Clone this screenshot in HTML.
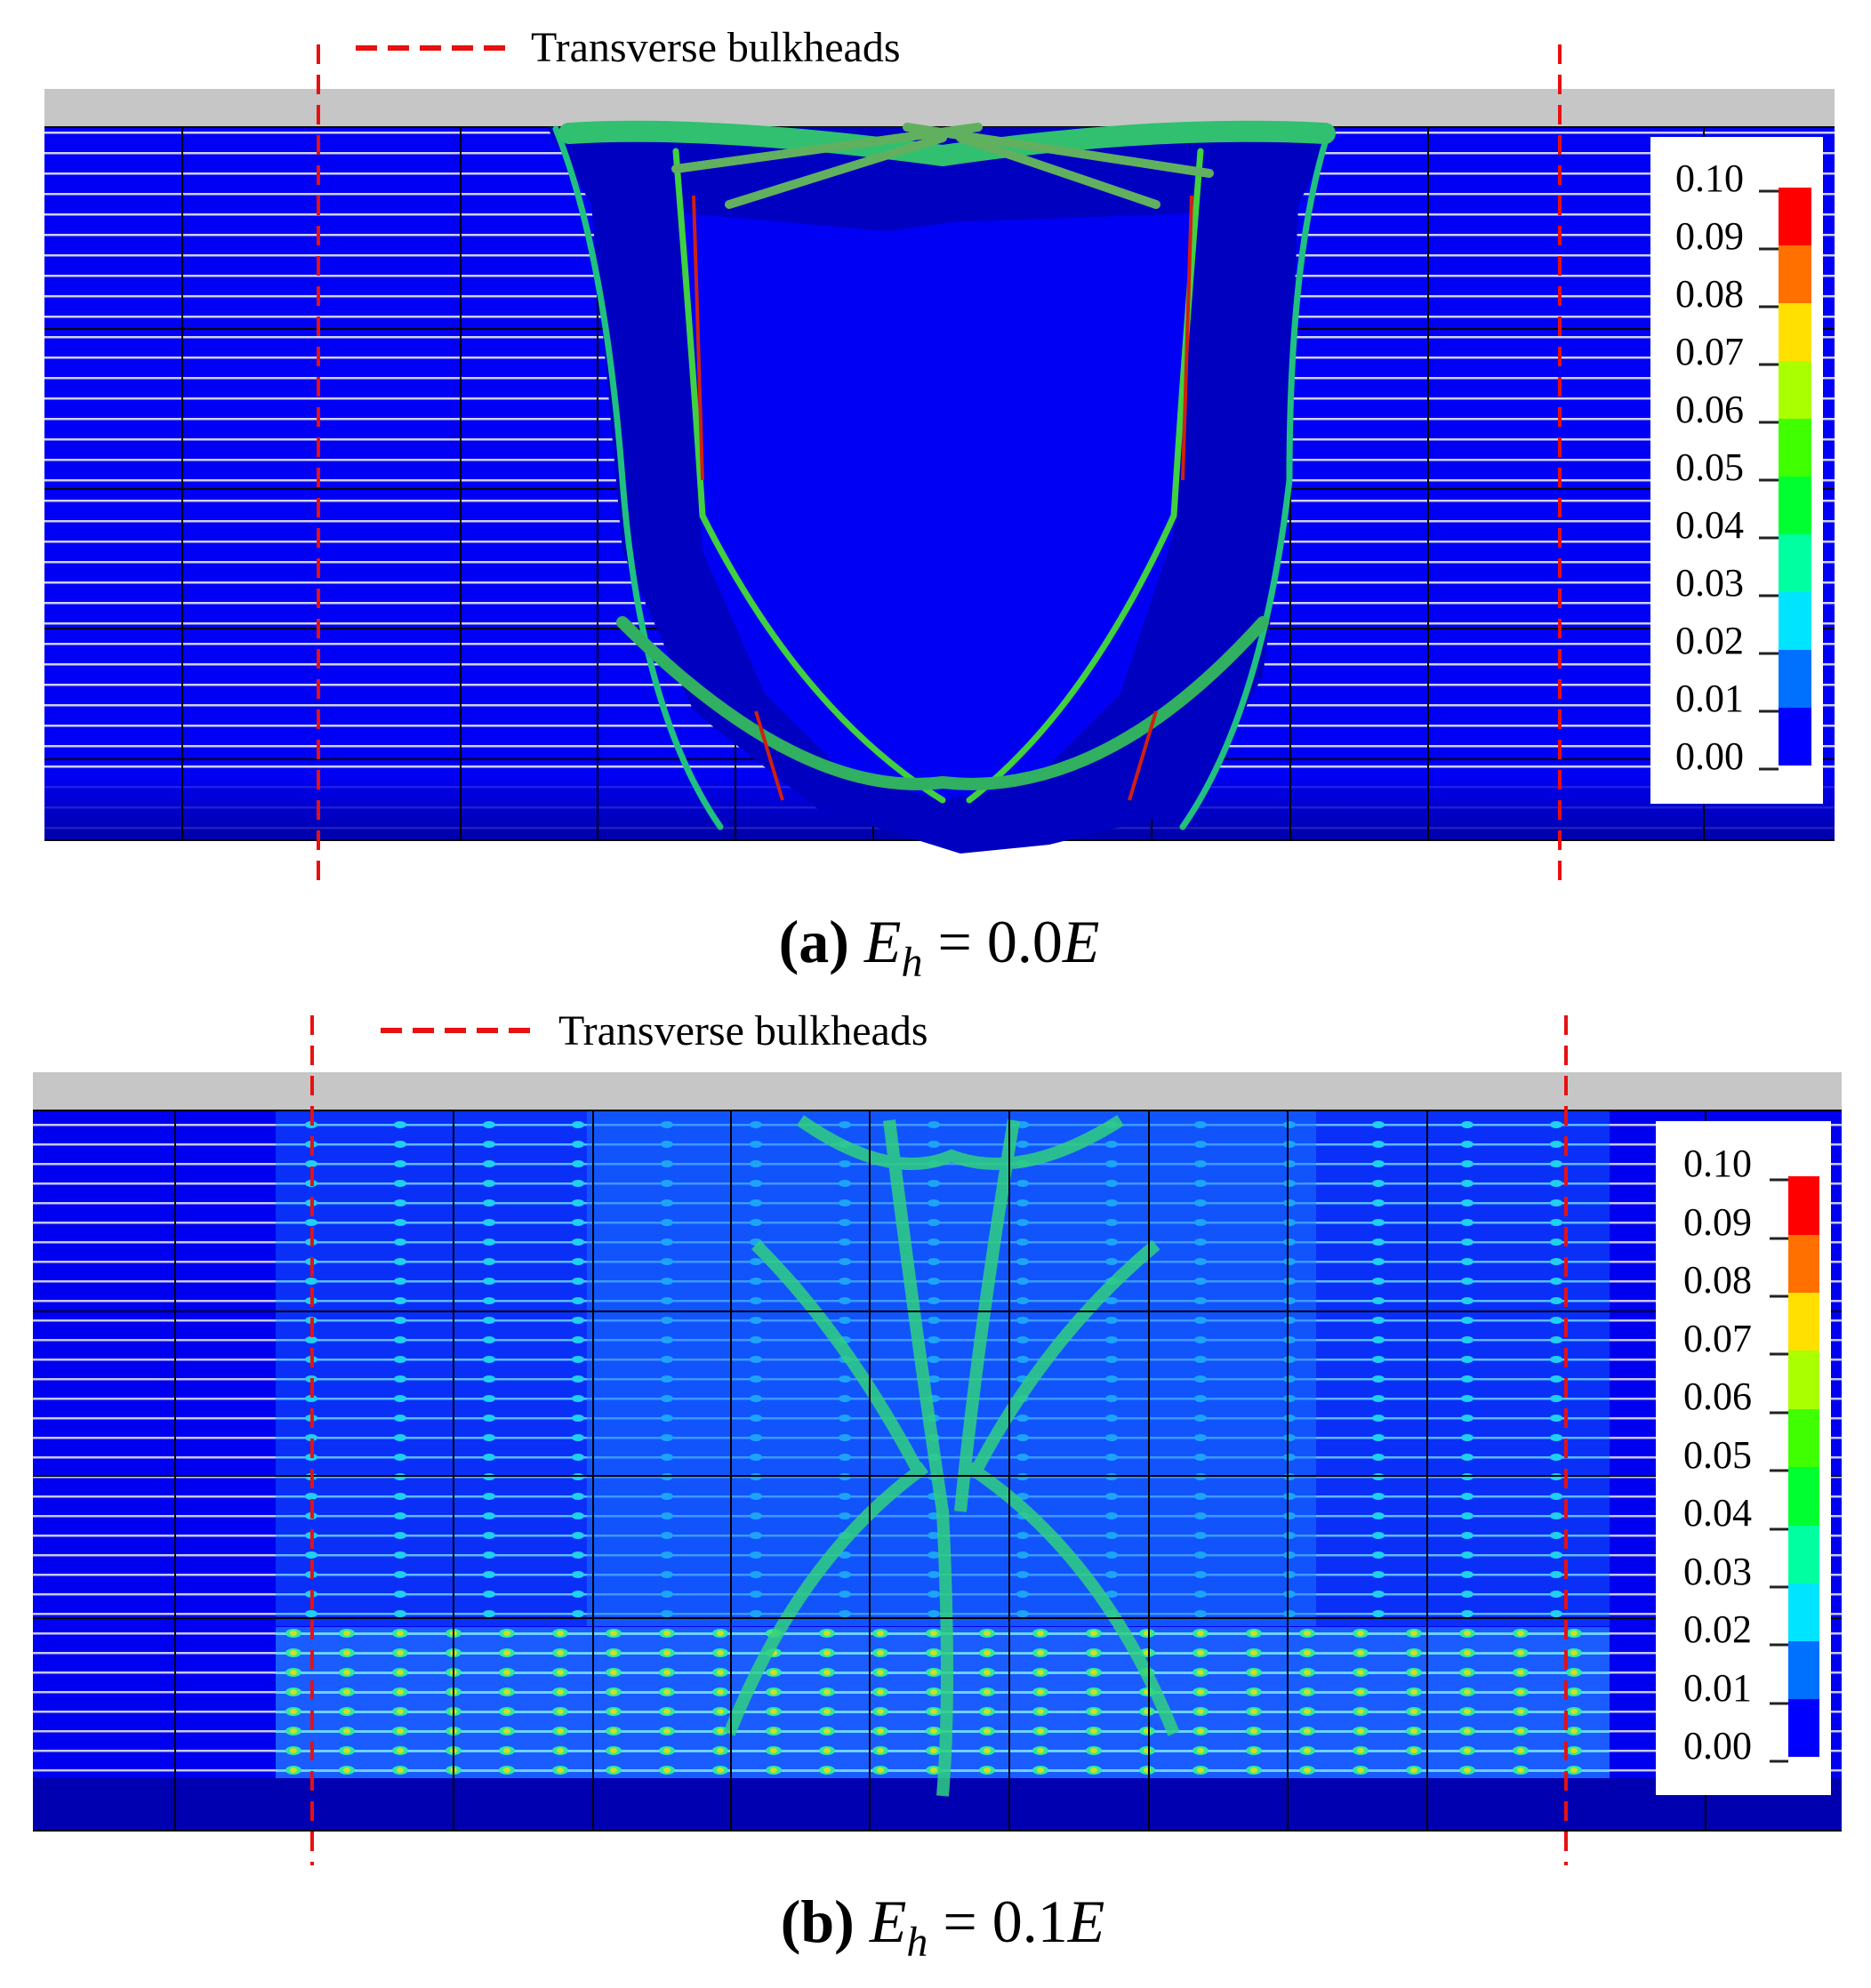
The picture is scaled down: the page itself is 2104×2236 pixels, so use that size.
<!DOCTYPE html>
<html><head><meta charset="utf-8"><style>
html,body{margin:0;padding:0;background:#fff}
svg{display:block}
text{font-family:"Liberation Serif",serif}
</style></head><body>
<svg width="2104" height="2236" viewBox="0 0 2104 2236" xmlns="http://www.w3.org/2000/svg">
<defs>
<pattern id="hl" x="0" y="0" width="10" height="23" patternUnits="userSpaceOnUse"><rect width="10" height="23" fill="#0000f4"/><rect y="10" width="10" height="2.5" fill="#d0d0f0"/></pattern>
<pattern id="hl2" x="0" y="0" width="10" height="22" patternUnits="userSpaceOnUse"><rect width="10" height="22" fill="#0000f0"/><rect y="10" width="10" height="2.5" fill="#c8c8f0"/></pattern>
<pattern id="dots" x="0" y="0" width="60" height="22" patternUnits="userSpaceOnUse"><rect width="60" height="22" fill="#1a5cff"/><rect y="10" width="60" height="3" fill="#6cd0ff"/><ellipse cx="30" cy="11" rx="9" ry="5" fill="#30e8a0"/><ellipse cx="30" cy="11" rx="4" ry="3" fill="#d0e020"/></pattern>
<pattern id="dots2" x="0" y="0" width="100" height="22" patternUnits="userSpaceOnUse"><rect width="100" height="22" fill="#0a30f8"/><rect y="10" width="100" height="2.5" fill="#60b8ff"/><ellipse cx="50" cy="11" rx="7" ry="4" fill="#20d0f0"/></pattern>
<linearGradient id="bot" x1="0" y1="0" x2="0" y2="1"><stop offset="0" stop-color="#0000f0"/><stop offset="1" stop-color="#00009a"/></linearGradient>
</defs>

<!-- Panel a -->
<rect x="50" y="100" width="2013" height="43" fill="#c6c6c6"/>
<rect x="50" y="143" width="2013" height="802" fill="url(#hl)"/>
<rect x="50" y="875" width="2013" height="70" fill="url(#bot)" opacity="0.85"/>
<g stroke="#000" stroke-width="2">
<line x1="50" y1="143" x2="2063" y2="143"/><line x1="50" y1="370" x2="2063" y2="370"/><line x1="50" y1="550" x2="2063" y2="550"/><line x1="50" y1="707" x2="2063" y2="707"/><line x1="50" y1="854" x2="2063" y2="854"/><line x1="50" y1="945" x2="2063" y2="945"/>
<line x1="205" y1="143" x2="205" y2="945"/><line x1="518" y1="143" x2="518" y2="945"/><line x1="672" y1="143" x2="672" y2="945"/><line x1="827" y1="143" x2="827" y2="945"/><line x1="982" y1="143" x2="982" y2="945"/><line x1="1140" y1="143" x2="1140" y2="945"/><line x1="1295" y1="143" x2="1295" y2="945"/><line x1="1451" y1="143" x2="1451" y2="945"/><line x1="1606" y1="143" x2="1606" y2="945"/><line x1="1916" y1="143" x2="1916" y2="945"/>
</g>
<!-- damage a -->
<path d="M615 143 L1505 143 L1460 230 L1445 580 L1420 760 L1340 910 L1180 950 L1080 960 L920 910 L780 800 L700 620 L665 230 Z" fill="#0000c0"/>
<path d="M770 240 L1000 260 L1070 250 L1340 240 L1320 600 L1260 780 L1160 880 L1060 900 L950 870 L860 780 L790 620 Z" fill="#0000f4"/>
<g fill="none" stroke-width="7" stroke-linecap="round">
<path d="M625 145 Q680 280 700 540 Q720 800 810 930" stroke="#20c080"/>
<path d="M1495 145 Q1450 280 1450 540 Q1420 800 1330 930" stroke="#20c080"/>
<path d="M760 170 Q780 420 790 580 Q900 800 1060 900" stroke="#40d040"/>
<path d="M1350 170 Q1330 420 1320 580 Q1220 800 1090 900" stroke="#40d040"/>
<path d="M700 700 Q900 900 1060 880 Q1240 900 1420 700" stroke="#30b060" stroke-width="14"/>
<path d="M640 150 Q800 140 1060 175 Q1300 140 1490 150" stroke="#30c070" stroke-width="24"/>
<path d="M760 190 L1100 143 M1360 195 L1020 143 M820 230 L1060 155 M1300 230 L1080 155" stroke="#60b060" stroke-width="10"/>
</g>
<g fill="none" stroke="#d02010" stroke-width="4">
<path d="M780 220 L790 540"/><path d="M1340 220 L1330 540"/><path d="M850 800 L880 900"/><path d="M1300 800 L1270 900"/>
</g>
<!-- colorbar a -->
<rect x="1856" y="154" width="194" height="750" fill="#fff"/>
<g>
<rect x="2000" y="211" width="37" height="65" fill="#ff0000"/><rect x="2000" y="276" width="37" height="65" fill="#ff7000"/><rect x="2000" y="341" width="37" height="65" fill="#ffe000"/><rect x="2000" y="406" width="37" height="65" fill="#aaff00"/><rect x="2000" y="471" width="37" height="65" fill="#40ff00"/><rect x="2000" y="536" width="37" height="65" fill="#00ff30"/><rect x="2000" y="601" width="37" height="65" fill="#00ffa0"/><rect x="2000" y="666" width="37" height="65" fill="#00e4ff"/><rect x="2000" y="731" width="37" height="65" fill="#0070ff"/><rect x="2000" y="796" width="37" height="65" fill="#0000ff"/>
</g>
<g stroke="#222" stroke-width="3"><line x1="1978" y1="215" x2="2000" y2="215"/><line x1="1978" y1="280" x2="2000" y2="280"/><line x1="1978" y1="345" x2="2000" y2="345"/><line x1="1978" y1="410" x2="2000" y2="410"/><line x1="1978" y1="475" x2="2000" y2="475"/><line x1="1978" y1="540" x2="2000" y2="540"/><line x1="1978" y1="605" x2="2000" y2="605"/><line x1="1978" y1="670" x2="2000" y2="670"/><line x1="1978" y1="735" x2="2000" y2="735"/><line x1="1978" y1="800" x2="2000" y2="800"/><line x1="1978" y1="865" x2="2000" y2="865"/></g>
<g font-size="44" fill="#000">
<text x="1884" y="215">0.10</text><text x="1884" y="280">0.09</text><text x="1884" y="345">0.08</text><text x="1884" y="410">0.07</text><text x="1884" y="475">0.06</text><text x="1884" y="540">0.05</text><text x="1884" y="605">0.04</text><text x="1884" y="670">0.03</text><text x="1884" y="735">0.02</text><text x="1884" y="800">0.01</text><text x="1884" y="865">0.00</text>
</g>
<g stroke="#e81010" stroke-width="4" stroke-dasharray="22,12"><line x1="358" y1="50" x2="358" y2="995"/><line x1="1754" y1="50" x2="1754" y2="995"/></g>
<line x1="400" y1="54" x2="571" y2="54" stroke="#e81010" stroke-width="6" stroke-dasharray="24,12"/>
<text x="597" y="69" font-size="48">Transverse bulkheads</text>
<text x="1056" y="1082" font-size="68" text-anchor="middle"><tspan font-weight="bold">(a)</tspan>  <tspan font-style="italic">E</tspan><tspan font-style="italic" font-size="48" dy="16">h</tspan><tspan dy="-16"> = 0.0</tspan><tspan font-style="italic">E</tspan></text>

<!-- Panel b -->
<rect x="37" y="1206" width="2034" height="43" fill="#c6c6c6"/>
<rect x="37" y="1249" width="2034" height="810" fill="url(#hl2)"/>
<rect x="310" y="1249" width="1500" height="580" fill="url(#dots2)"/>
<rect x="660" y="1249" width="820" height="580" fill="#1a78ff" opacity="0.5"/>
<rect x="310" y="1830" width="1500" height="170" fill="url(#dots)"/>
<rect x="37" y="2000" width="2034" height="59" fill="#0000b0"/>
<g fill="none" stroke="#30d080" stroke-width="14" opacity="0.85">
<path d="M1000 1260 Q1030 1500 1060 1700 Q1070 1900 1060 2020"/><path d="M1140 1260 Q1100 1500 1080 1700"/>
<path d="M1040 1650 Q900 1750 820 1950 M1090 1650 Q1240 1750 1320 1950"/>
<path d="M850 1400 Q950 1500 1030 1650 M1300 1400 Q1180 1500 1100 1650"/>
<path d="M900 1260 Q1000 1330 1070 1300 Q1150 1330 1260 1260"/>
</g>
<g stroke="#000" stroke-width="2">
<line x1="37" y1="1249" x2="2071" y2="1249"/><line x1="37" y1="1475" x2="2071" y2="1475"/><line x1="37" y1="1660" x2="2071" y2="1660"/><line x1="37" y1="1820" x2="2071" y2="1820"/><line x1="37" y1="2059" x2="2071" y2="2059"/>
<line x1="197" y1="1249" x2="197" y2="2059"/><line x1="510" y1="1249" x2="510" y2="2059"/><line x1="667" y1="1249" x2="667" y2="2059"/><line x1="822" y1="1249" x2="822" y2="2059"/><line x1="978" y1="1249" x2="978" y2="2059"/><line x1="1135" y1="1249" x2="1135" y2="2059"/><line x1="1292" y1="1249" x2="1292" y2="2059"/><line x1="1448" y1="1249" x2="1448" y2="2059"/><line x1="1605" y1="1249" x2="1605" y2="2059"/><line x1="1918" y1="1249" x2="1918" y2="2059"/>
</g>
<!-- colorbar b -->
<rect x="1862" y="1261" width="197" height="758" fill="#fff"/>
<g>
<rect x="2011" y="1323" width="35" height="66" fill="#ff0000"/><rect x="2011" y="1389" width="35" height="65" fill="#ff7000"/><rect x="2011" y="1454" width="35" height="65" fill="#ffe000"/><rect x="2011" y="1519" width="35" height="66" fill="#aaff00"/><rect x="2011" y="1585" width="35" height="65" fill="#40ff00"/><rect x="2011" y="1650" width="35" height="66" fill="#00ff30"/><rect x="2011" y="1716" width="35" height="65" fill="#00ffa0"/><rect x="2011" y="1781" width="35" height="65" fill="#00e4ff"/><rect x="2011" y="1846" width="35" height="65" fill="#0070ff"/><rect x="2011" y="1911" width="35" height="65" fill="#0000ff"/>
</g>
<g stroke="#222" stroke-width="3"><line x1="1990" y1="1327" x2="2011" y2="1327"/><line x1="1990" y1="1393" x2="2011" y2="1393"/><line x1="1990" y1="1458" x2="2011" y2="1458"/><line x1="1990" y1="1523" x2="2011" y2="1523"/><line x1="1990" y1="1589" x2="2011" y2="1589"/><line x1="1990" y1="1654" x2="2011" y2="1654"/><line x1="1990" y1="1720" x2="2011" y2="1720"/><line x1="1990" y1="1785" x2="2011" y2="1785"/><line x1="1990" y1="1850" x2="2011" y2="1850"/><line x1="1990" y1="1916" x2="2011" y2="1916"/><line x1="1990" y1="1981" x2="2011" y2="1981"/></g>
<g font-size="44" fill="#000">
<text x="1893" y="1323">0.10</text><text x="1893" y="1389">0.09</text><text x="1893" y="1454">0.08</text><text x="1893" y="1520">0.07</text><text x="1893" y="1585">0.06</text><text x="1893" y="1651">0.05</text><text x="1893" y="1716">0.04</text><text x="1893" y="1782">0.03</text><text x="1893" y="1847">0.02</text><text x="1893" y="1913">0.01</text><text x="1893" y="1978">0.00</text>
</g>
<g stroke="#e81010" stroke-width="4" stroke-dasharray="22,12"><line x1="351" y1="1142" x2="351" y2="2098"/><line x1="1761" y1="1142" x2="1761" y2="2098"/></g>
<line x1="428" y1="1159" x2="606" y2="1159" stroke="#e81010" stroke-width="6" stroke-dasharray="24,12"/>
<text x="628" y="1175" font-size="48">Transverse bulkheads</text>
<text x="1060" y="2184" font-size="68" text-anchor="middle"><tspan font-weight="bold">(b)</tspan>  <tspan font-style="italic">E</tspan><tspan font-style="italic" font-size="48" dy="16">h</tspan><tspan dy="-16"> = 0.1</tspan><tspan font-style="italic">E</tspan></text>
</svg>
</body></html>
